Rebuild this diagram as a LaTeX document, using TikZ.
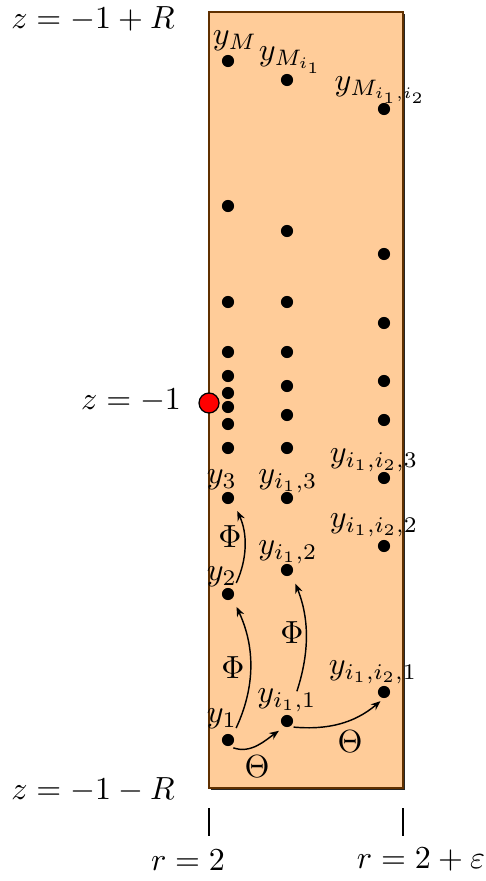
\documentclass[tikz,border=0pt]{standalone}
\usetikzlibrary{arrows.meta}
\definecolor{peach}{RGB}{255,204,153}
\definecolor{boxbrown}{RGB}{96,48,0}
\begin{document}
\begin{tikzpicture}[x=0.3125pt,y=-0.3125pt,
  dot/.style={circle,fill=black,inner sep=0pt,minimum size=3.8pt},
  lab/.style={inner sep=0pt},
  arr/.style={-{Stealth[length=3pt,width=2.4pt]},line width=0.45pt}]
\useasboundingbox (0,0) rectangle (485,881);
% box with shadow
\coordinate (stl) at (210.8,13.8);
\coordinate (sbr) at (404.8,789.8);
\coordinate (btl) at (209,12);
\coordinate (bbr) at (403,788);
\fill[black!85] (stl) rectangle (sbr);
\filldraw[fill=peach,draw=boxbrown,line width=0.8pt] (btl) rectangle (bbr);
% column 1 dots
\node[dot] (yM) at (228,61) {};
\foreach \yy [count=\i] in {206,302,352,376,393,407,424,448} \node[dot] (a\i) at (228,\yy) {};
\node[dot] (y3) at (228,498) {};
\node[dot] (y2) at (228,594) {};
\node[dot] (y1) at (228,740) {};
% column 2 dots
\node[dot] (yMi) at (287,80) {};
\foreach \yy [count=\i] in {231,302,352,386,415,448} \node[dot] (b\i) at (287,\yy) {};
\node[dot] (yi13) at (287,498) {};
\node[dot] (yi12) at (287,570) {};
\node[dot] (yi11) at (287,721) {};
% column 3 dots
\node[dot] (yMii) at (384,109) {};
\foreach \yy [count=\i] in {254,323,381,420} \node[dot] (c\i) at (384,\yy) {};
\node[dot] (yi123) at (384,478) {};
\node[dot] (yi122) at (384,546) {};
\node[dot] (yi121) at (384,692) {};
% red point
\node[circle,fill=red,draw=black,line width=0.4pt,minimum size=6.25pt,inner sep=0pt] (zc) at (209,403) {};
% labels
\node[lab] (lyM) at (235,41) {$y_M$};
\node[lab] (lyMi) at (291,60) {$y_{M_{i_1}}$};
\node[lab] (lyMii) at (381,90) {$y_{M_{i_1,i_2}}$};
\node[lab] (ly3) at (222,480) {$y_3$};
\node[lab] (lyi13) at (288,481) {$y_{i_1,3}$};
\node[lab] (lyi123) at (374,460) {$y_{i_1,i_2,3}$};
\node[lab] (ly2) at (222,577) {$y_2$};
\node[lab] (lyi12) at (288,552) {$y_{i_1,2}$};
\node[lab] (lyi122) at (374,525) {$y_{i_1,i_2,2}$};
\node[lab] (ly1) at (222,719) {$y_1$};
\node[lab] (lyi11) at (287,700) {$y_{i_1,1}$};
\node[lab] (lyi121) at (373,672) {$y_{i_1,i_2,1}$};
% side labels
\node[lab] (ztop) at (93,19) {$z=-1+R$};
\node[lab] (zmid) at (131,401) {$z=-1$};
\node[lab] (zbot) at (93,790) {$z=-1-R$};
% ticks
\coordinate (t1a) at (209,808);
\coordinate (t1b) at (209,836);
\coordinate (t2a) at (403,808);
\coordinate (t2b) at (403,836);
\draw[line width=0.4pt] (t1a) -- (t1b);
\draw[line width=0.4pt] (t2a) -- (t2b);
\node[lab] (r1) at (188,860) {$r=2$};
\node[lab] (r2) at (421,860) {$r=2+\varepsilon$};
% Theta arrows
\draw[arr,shorten <=1.2pt,shorten >=2pt] (y1.-75) to[out=-20,in=-145] (yi11.-115);
\draw[arr,shorten <=1pt,shorten >=1.2pt] (yi11.-60) to[out=-5,in=-140] (yi121.-95);
\node[lab] (th1) at (257,767) {$\Theta$};
\node[lab] (th2) at (350,742) {$\Theta$};
% Phi arrows
\draw[arr,shorten <=2.5pt,shorten >=2.8pt] (y1.45) to[out=65,in=-65] (y2.-45);
\draw[arr,shorten <=2.3pt,shorten >=3pt] (y2.40) to[out=65,in=-65] (y3.-40);
\draw[arr,shorten <=7.7pt,shorten >=3pt] (yi11.70) to[out=72,in=-68] (yi12.-45);
\node[lab] (ph1) at (233,668) {$\Phi$};
\node[lab] (ph2) at (230,537) {$\Phi$};
\node[lab] (ph3) at (292,633) {$\Phi$};
\end{tikzpicture}
\end{document}
